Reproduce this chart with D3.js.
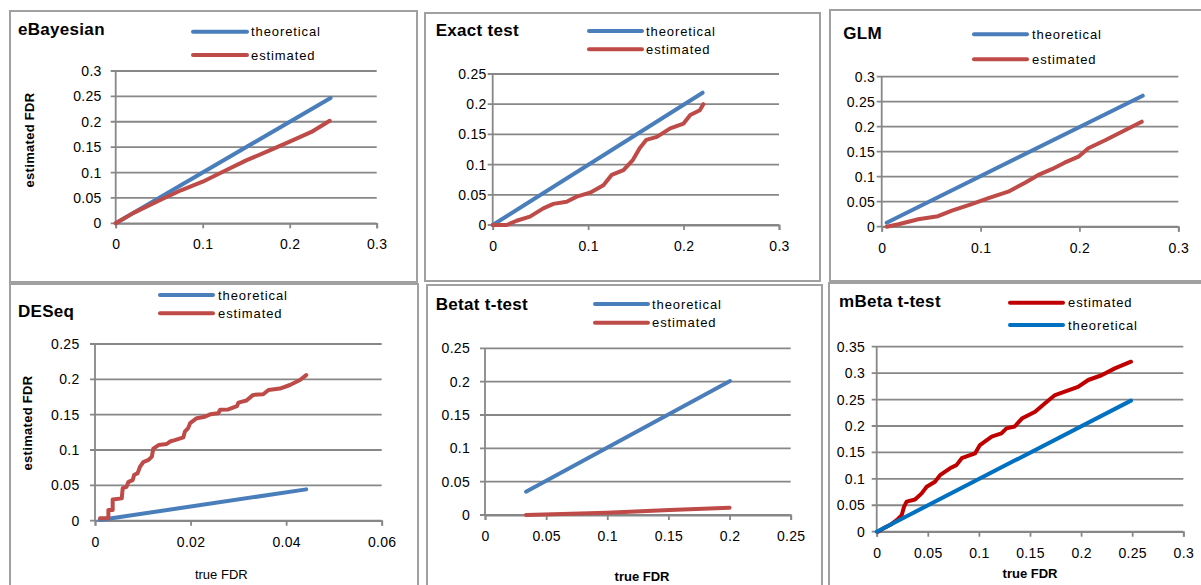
<!DOCTYPE html>
<html>
<head>
<meta charset="utf-8">
<script src="https://cdn.jsdelivr.net/npm/d3@7"></script>
<style>
  body { margin: 0; background: #fff; }
  svg { display: block; font-family: "Liberation Sans", Arial, sans-serif; }
</style>
</head>
<body>
<div id="chart"></div>
<script>
const WIDTH = 1201;
const HEIGHT = 585;

// series names
const seriesNames = ["theoretical", "estimated"];

// eBayesian
const ebayesTheoTrue = [0, 0.247];
const ebayesTheo = [0, 0.247];
const ebayesTrue = [0, 0.02, 0.05, 0.075, 0.1, 0.125, 0.15, 0.175, 0.2, 0.225, 0.246];
const ebayesEst = [0, 0.02, 0.045, 0.065, 0.082, 0.103, 0.124, 0.142, 0.161, 0.18, 0.202];

// Exact test
const exactTheoTrue = [0, 0.22];
const exactTheo = [0, 0.219];
const exactTrue = [0, 0.0147, 0.025, 0.039, 0.053, 0.0636, 0.0775, 0.088, 0.102, 0.116, 0.1247, 0.137, 0.147, 0.154, 0.161, 0.172, 0.186, 0.2, 0.207, 0.217, 0.2207];
const exactEst = [0, 0, 0.007, 0.0138, 0.0276, 0.035, 0.0386, 0.047, 0.0535, 0.066, 0.083, 0.091, 0.108, 0.127, 0.141, 0.146, 0.16, 0.168, 0.182, 0.19, 0.2];

// GLM
const glmTheoTrue = [0.005, 0.264];
const glmTheo = [0.008, 0.262];
const glmTrue = [0.005, 0.017, 0.037, 0.057, 0.071, 0.091, 0.108, 0.128, 0.145, 0.158, 0.172, 0.185, 0.199, 0.209, 0.226, 0.243, 0.263];
const glmEst = [0, 0.005, 0.015, 0.021, 0.032, 0.045, 0.057, 0.07, 0.088, 0.103, 0.115, 0.128, 0.14, 0.157, 0.173, 0.19, 0.21];

// DESeq
const deseqTheoTrue = [0.001, 0.0442];
const deseqTheo = [0.001, 0.0443];
const deseqTrue = [0.00105, 0.0028, 0.0028, 0.0037, 0.0037, 0.0056, 0.0058, 0.0066, 0.007, 0.0079, 0.0082, 0.0089, 0.0094, 0.0101, 0.0112, 0.0119, 0.0122, 0.0133, 0.015, 0.0157, 0.0167, 0.0185, 0.0188, 0.0195, 0.0199, 0.0213, 0.023, 0.0241, 0.0258, 0.0262, 0.0279, 0.0297, 0.03, 0.0317, 0.0331, 0.0352, 0.0363, 0.0387, 0.0408, 0.0429, 0.0442];
const deseqEst = [0.0033, 0.0033, 0.015, 0.015, 0.03, 0.0316, 0.046, 0.048, 0.055, 0.0575, 0.065, 0.067, 0.076, 0.083, 0.086, 0.0906, 0.102, 0.107, 0.1085, 0.112, 0.114, 0.118, 0.126, 0.131, 0.138, 0.145, 0.147, 0.1505, 0.152, 0.157, 0.1575, 0.162, 0.167, 0.17, 0.178, 0.179, 0.185, 0.187, 0.192, 0.199, 0.206];

// Betat t-test
const betatTheoTrue = [0.0335, 0.2004];
const betatTheo = [0.035, 0.201];
const betatTrue = [0.0335, 0.0995, 0.151, 0.2];
const betatEst = [0, 0.0035, 0.0075, 0.011];

// mBeta t-test
const mbetaTheoTrue = [0, 0.2488];
const mbetaTheo = [0, 0.248];
const mbetaTrue = [0.0016, 0.0065, 0.013, 0.0196, 0.0245, 0.0267, 0.0293, 0.0375, 0.044, 0.0489, 0.057, 0.062, 0.0717, 0.078, 0.0832, 0.0962, 0.101, 0.1125, 0.122, 0.127, 0.135, 0.142, 0.155, 0.1647, 0.1745, 0.184, 0.197, 0.207, 0.22, 0.233, 0.2488];
const mbetaEst = [0, 0.0063, 0.0126, 0.022, 0.0315, 0.047, 0.0568, 0.061, 0.0725, 0.085, 0.0946, 0.107, 0.12, 0.126, 0.139, 0.148, 0.164, 0.18, 0.186, 0.1955, 0.199, 0.214, 0.227, 0.243, 0.2585, 0.265, 0.274, 0.287, 0.296, 0.309, 0.3216];

// tick values
const ticksX03 = [0, 0.1, 0.2, 0.3];
const ticksX025 = [0, 0.05, 0.1, 0.15, 0.2, 0.25];
const ticksX06 = [0, 0.02, 0.04, 0.06];
const ticksX03b = [0, 0.05, 0.1, 0.15, 0.2, 0.25, 0.3];
const ticksY03 = [0, 0.05, 0.1, 0.15, 0.2, 0.25, 0.3];
const ticksY025 = [0, 0.05, 0.1, 0.15, 0.2, 0.25];
const ticksY035 = [0, 0.05, 0.1, 0.15, 0.2, 0.25, 0.3, 0.35];

const BLUE = "#4a7ebb", RED = "#be4b48";
const DARKRED = "#c00000", BRIGHTBLUE = "#0070c0";

const panels = [
  { title: "eBayesian", box: [10, 11, 407, 271], px: [115.7, 376.7], py: [223.3, 71],
    xd: [0, 0.3], yd: [0, 0.3], xt: ticksX03, yt: ticksY03, gap: 14,
    titlePos: [18, 34.5], leg: { x1: 193, x2: 247, tx: 251, ys: [31.7, 55] },
    series: [[ebayesTheoTrue, ebayesTheo, BLUE, 0], [ebayesTrue, ebayesEst, RED, 1]],
    yLabel: [33.5, 140] },
  { title: "Exact test", box: [425, 13, 395, 268], px: [492.7, 779], py: [225, 74],
    xd: [0, 0.3], yd: [0, 0.25], xt: ticksX03, yt: ticksY025, gap: 6,
    titlePos: [435.7, 36], leg: { x1: 589, x2: 642, tx: 646, ys: [31, 49.3] },
    series: [[exactTheoTrue, exactTheo, BLUE, 0], [exactTrue, exactEst, RED, 1]] },
  { title: "GLM", box: [830, 10, 380, 271], px: [881.7, 1178.3], py: [226.7, 76.7],
    xd: [0, 0.3], yd: [0, 0.3], xt: ticksX03, yt: ticksY03, gap: 6.5,
    titlePos: [843.3, 39], leg: { x1: 974, x2: 1027, tx: 1032, ys: [34.3, 59.3] },
    series: [[glmTheoTrue, glmTheo, BLUE, 0], [glmTrue, glmEst, RED, 1]] },
  { title: "DESeq", box: [10, 284, 408, 320], px: [95, 381.7], py: [520.7, 344],
    xd: [0, 0.06], yd: [0, 0.25], xt: ticksX06, yt: ticksY025, gap: 15.5,
    titlePos: [18, 317.3], leg: { x1: 160, x2: 213, tx: 218, ys: [295, 313.3] },
    series: [[deseqTheoTrue, deseqTheo, BLUE, 0], [deseqTrue, deseqEst, RED, 1]],
    yLabel: [32, 423], xLabel: [221.3, 579, "normal"] },
  { title: "Betat t-test", box: [427, 285, 395, 320], px: [485, 790.7], py: [515, 348.3],
    xd: [0, 0.25], yd: [0, 0.25], xt: ticksX025, yt: ticksY025, gap: 15,
    titlePos: [435.7, 310], leg: { x1: 595, x2: 648, tx: 652, ys: [304, 322.7] },
    series: [[betatTheoTrue, betatTheo, BLUE, 0], [betatTrue, betatEst, RED, 1]],
    xLabel: [642, 581, "bold"] },
  { title: "mBeta t-test", box: [829, 283, 380, 320], px: [876.7, 1183.3], py: [531.7, 346.7],
    xd: [0, 0.3], yd: [0, 0.35], xt: ticksX03b, yt: ticksY035, gap: 11.5,
    titlePos: [839, 306.5], leg: { x1: 1010, x2: 1063, tx: 1068, ys: [325, 302.7] },
    series: [[mbetaTrue, mbetaEst, DARKRED, 1], [mbetaTheoTrue, mbetaTheo, BRIGHTBLUE, 0]],
    xLabel: [1030, 578, "bold"] }
];

const svg = d3.select("#chart").append("svg")
  .attr("width", WIDTH).attr("height", HEIGHT);

const fmt = d3.format("~g");
const GRID = "#878787";

panels.forEach(p => {
  const g = svg.append("g");

  g.append("rect")
    .attr("x", p.box[0]).attr("y", p.box[1])
    .attr("width", p.box[2]).attr("height", p.box[3])
    .attr("fill", "#fff").attr("stroke", "#a0a0a0").attr("stroke-width", 2);

  const x = d3.scaleLinear().domain(p.xd).range(p.px);
  const y = d3.scaleLinear().domain(p.yd).range(p.py);

  // gridlines, sticking out a little left of the axis like tick marks
  g.selectAll(".grid").data(p.yt).enter().append("line")
    .attr("x1", p.px[0] - 5).attr("x2", p.px[1])
    .attr("y1", d => y(d)).attr("y2", d => y(d))
    .attr("stroke", GRID).attr("stroke-width", 1.8);

  g.append("line")
    .attr("x1", p.px[0]).attr("x2", p.px[0])
    .attr("y1", p.py[0]).attr("y2", p.py[1])
    .attr("stroke", GRID).attr("stroke-width", 1.8);

  const xAxis = g.append("g")
    .attr("transform", `translate(0,${p.py[0]})`)
    .call(d3.axisBottom(x).tickValues(p.xt).tickSize(5).tickSizeOuter(5).tickPadding(11).tickFormat(fmt));
  xAxis.select(".domain").attr("stroke", GRID).attr("stroke-width", 1.8);
  xAxis.selectAll(".tick line").attr("stroke", GRID).attr("stroke-width", 1.8);
  xAxis.selectAll("text").attr("font-size", 14).attr("fill", "#000")
    .attr("font-family", "Liberation Sans, Arial, sans-serif").attr("letter-spacing", 0.3);

  g.selectAll(".ylab").data(p.yt).enter().append("text")
    .attr("x", p.px[0] - p.gap).attr("y", d => y(d) + 5)
    .attr("text-anchor", "end").attr("font-size", 14).attr("letter-spacing", 0.3)
    .text(fmt);

  const line = d3.line().x(d => x(d[0])).y(d => y(d[1]));
  p.series.forEach(s => {
    g.append("path")
      .datum(d3.zip(s[0], s[1]))
      .attr("d", line)
      .attr("fill", "none").attr("stroke", s[2]).attr("stroke-width", 4)
      .attr("stroke-linecap", "round").attr("stroke-linejoin", "round");
  });

  g.append("text")
    .attr("x", p.titlePos[0]).attr("y", p.titlePos[1])
    .attr("font-size", 17).attr("font-weight", "bold").attr("letter-spacing", 0.3)
    .text(p.title);

  p.series.forEach(s => {
    const ly = p.leg.ys[s[3]];
    g.append("line")
      .attr("x1", p.leg.x1).attr("x2", p.leg.x2)
      .attr("y1", ly).attr("y2", ly)
      .attr("stroke", s[2]).attr("stroke-width", 4).attr("stroke-linecap", "round");
    g.append("text")
      .attr("x", p.leg.tx).attr("y", ly + 4.5)
      .attr("font-size", 13).attr("letter-spacing", 0.9)
      .text(seriesNames[s[3]]);
  });

  if (p.yLabel) {
    g.append("text")
      .attr("transform", `translate(${p.yLabel[0]},${p.yLabel[1]}) rotate(-90)`)
      .attr("text-anchor", "middle").attr("font-size", 13).attr("font-weight", "bold")
      .attr("letter-spacing", 0.3)
      .text("estimated FDR");
  }
  if (p.xLabel) {
    g.append("text")
      .attr("x", p.xLabel[0]).attr("y", p.xLabel[1])
      .attr("text-anchor", "middle").attr("font-size", 13).attr("font-weight", p.xLabel[2])
      .text("true FDR");
  }
});
</script>
</body>
</html>
